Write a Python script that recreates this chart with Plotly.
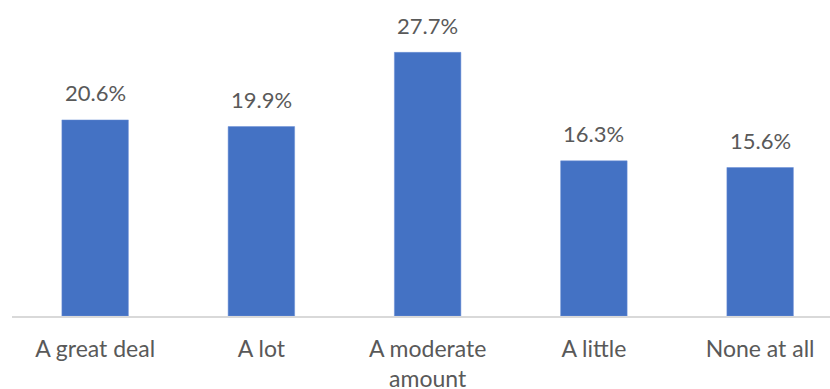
import plotly.graph_objects as go

# Survey response categories and their shares (%)
categories = ["A great deal", "A lot", "A moderate<br>amount", "A little", "None at all"]
shares = [20.6, 19.9, 27.7, 16.3, 15.6]
value_labels = [f"{v:.1f}%" for v in shares]

BAR_COLOR = "#4472C4"
TEXT_COLOR = "#595959"
FONT = "Lato, Open Sans, sans-serif"

positions = list(range(len(categories)))

fig = go.Figure(
    go.Bar(
        x=positions,
        y=shares,
        marker=dict(color=BAR_COLOR, line=dict(color="#6a8fd6", width=0.5)),
        hoverinfo="skip",
    )
)

# Value labels above each bar
for xi, v, lab in zip(positions, shares, value_labels):
    fig.add_annotation(
        x=xi,
        y=v,
        text=lab,
        showarrow=False,
        yanchor="middle",
        yshift=27,
        font=dict(family=FONT, size=22, color=TEXT_COLOR),
    )

fig.update_layout(
    width=830,
    height=389,
    margin=dict(l=12, r=0, t=0, b=73, autoexpand=False),
    paper_bgcolor="white",
    plot_bgcolor="white",
    bargap=0.6,
    showlegend=False,
    font=dict(family=FONT, color=TEXT_COLOR),
)

fig.update_xaxes(
    tickmode="array",
    tickvals=positions,
    ticktext=categories,
    range=[-0.5, -0.5 + 818 / 166.25],
    automargin=False,
    showgrid=False,
    zeroline=False,
    showline=True,
    linecolor="#d9d9d9",
    linewidth=1.5,
    ticks="",
    ticklabelstandoff=12,
    tickfont=dict(family=FONT, size=23, color=TEXT_COLOR),
)

fig.update_yaxes(
    range=[0, 33.2],
    visible=False,
    showgrid=False,
    zeroline=False,
)

fig.write_html("out.html")
